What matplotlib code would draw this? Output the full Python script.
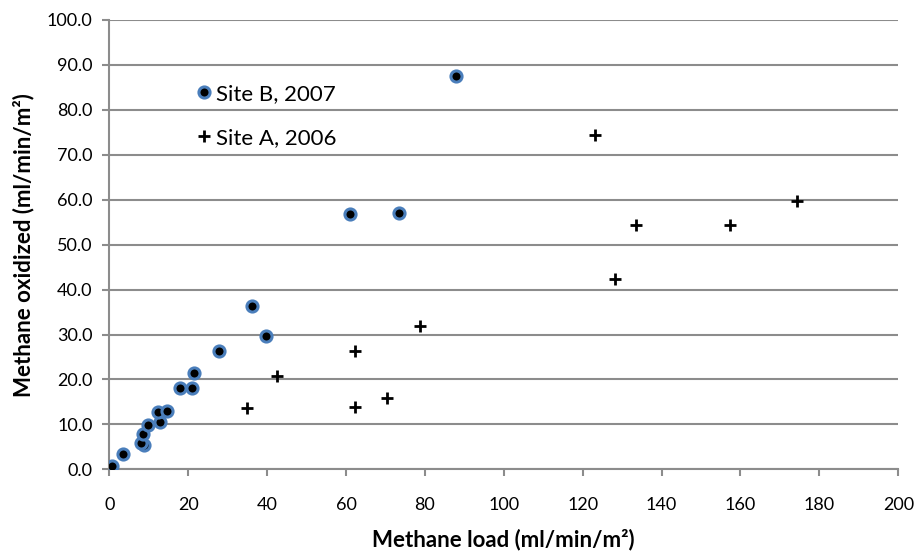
import matplotlib
matplotlib.use("Agg")
import matplotlib.pyplot as plt
from matplotlib.ticker import FormatStrFormatter, MultipleLocator

plt.rcParams["font.family"] = ["Lato", "DejaVu Sans"]

# Site B, 2007 (circles)
site_b_load = [0.6, 3.5, 8.9, 8.0, 8.5, 9.7, 12.9, 12.3, 14.5, 17.9, 20.9,
               21.5, 27.9, 39.7, 36.1, 61.0, 73.4, 87.8]
site_b_oxid = [0.7, 3.4, 5.3, 5.8, 7.9, 9.9, 10.6, 12.8, 13.0, 18.0, 18.0,
               21.5, 26.4, 29.7, 36.4, 56.8, 57.1, 87.6]

# Site A, 2006 (crosses)
site_a_load = [35.0, 42.4, 62.4, 62.4, 70.5, 78.8, 123.0, 128.1, 133.5, 157.3, 174.3]
site_a_oxid = [13.6, 20.8, 26.4, 13.9, 15.9, 31.9, 74.5, 42.3, 54.4, 54.4, 59.7]

grid_grey = "#8c8c8c"

fig = plt.figure(figsize=(9.17, 5.55), dpi=100)
ax = fig.add_axes([0.1192, 0.1544, 0.8604, 0.8096])

ax.plot(site_b_load, site_b_oxid, linestyle="none", marker="o", markersize=8,
        markerfacecolor="black", markeredgecolor="#4a7ebb", markeredgewidth=2.2,
        label="Site B, 2007", zorder=3)
ax.plot(site_a_load, site_a_oxid, linestyle="none", marker="+", markersize=9,
        markeredgewidth=2, color="black", label="Site A, 2006", zorder=3)

ax.set_xlim(0, 200)
ax.set_ylim(0, 100)
ax.xaxis.set_major_locator(MultipleLocator(20))
ax.yaxis.set_major_locator(MultipleLocator(10))
ax.yaxis.set_major_formatter(FormatStrFormatter("%.1f"))

ax.grid(axis="y", color=grid_grey, linewidth=1.5)
ax.set_axisbelow(True)
for s in ["top", "right"]:
    ax.spines[s].set_visible(False)
for s in ["left", "bottom"]:
    ax.spines[s].set_color(grid_grey)
    ax.spines[s].set_linewidth(1.5)
ax.tick_params(axis="both", direction="out", length=5, width=1.5,
               color=grid_grey, labelsize=13, labelcolor="black")
ax.tick_params(axis="y", pad=7)
ax.tick_params(axis="x", pad=15)

ax.set_xlabel("Methane load (ml/min/m²)", fontsize=16, fontweight="bold", labelpad=11)
ax.set_ylabel("Methane oxidized (ml/min/m²)", fontsize=16, fontweight="bold", labelpad=9)

ax.legend(loc="upper left", bbox_to_anchor=(0.111, 0.858), frameon=False,
          fontsize=16, handletextpad=0.25, handlelength=0.6,
          labelspacing=1.1, borderaxespad=0, borderpad=0)

fig.savefig("out.png", dpi=100)
